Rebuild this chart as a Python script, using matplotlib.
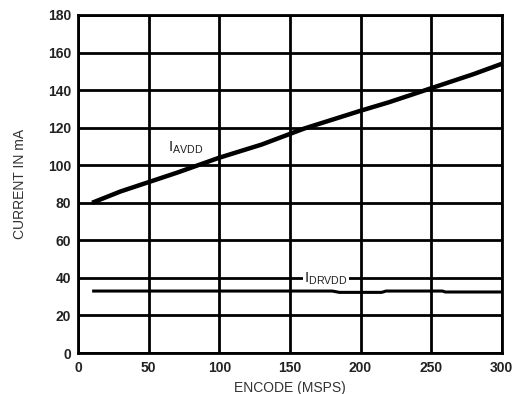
import matplotlib
matplotlib.use("Agg")
import matplotlib.pyplot as plt

plt.rcParams['font.family'] = ['Liberation Sans', 'DejaVu Sans']

# data
enc_avdd = [10, 30, 50, 70, 100, 130, 160, 200, 220, 250, 280, 300]
i_avdd = [80, 86, 91, 96, 104, 111, 119.5, 129, 133.5, 141, 148.5, 154]
enc_drvdd = [10, 100, 180, 185, 215, 218, 258, 260, 300]
i_drvdd = [33, 33, 33, 32.3, 32.3, 33, 33, 32.5, 32.5]

xticks = [0, 50, 100, 150, 200, 250, 300]
yticks = [0, 20, 40, 60, 80, 100, 120, 140, 160, 180]

fig = plt.figure(figsize=(5.2, 3.94), dpi=100)
ax = fig.add_axes([0.15, 0.104, 0.815, 0.858])

ax.plot(enc_avdd, i_avdd, color='black', linewidth=3.2, solid_capstyle='butt', zorder=3)
ax.plot(enc_drvdd, i_drvdd, color='black', linewidth=2.2, solid_capstyle='butt', zorder=3)

ax.set_xlim(0, 300)
ax.set_ylim(0, 180)
ax.set_xticks(xticks)
ax.set_yticks(yticks)
ax.grid(True, color='black', linewidth=2)
for s in ax.spines.values():
    s.set_linewidth(2)
ax.tick_params(length=0)
ax.tick_params(axis='x', pad=6)
ax.tick_params(axis='y', pad=5)
for lab in ax.get_xticklabels() + ax.get_yticklabels():
    lab.set_fontweight('bold')
    lab.set_fontsize(10)
    lab.set_color('#222222')

ax.text(64, 107, r'$\mathregular{I_{AVDD}}$', fontsize=11, color='#222222', zorder=4)
ax.text(160, 37.3, r'$\mathregular{I_{DRVDD}}$', fontsize=11, color='#222222', zorder=4,
        bbox=dict(facecolor='white', edgecolor='none', pad=1))

ax.set_xlabel('ENCODE (MSPS)', fontsize=10, color='#333333', labelpad=4)
ax.set_ylabel('CURRENT IN mA', fontsize=10, color='#333333', labelpad=15)

fig.savefig('out.png', dpi=100)
